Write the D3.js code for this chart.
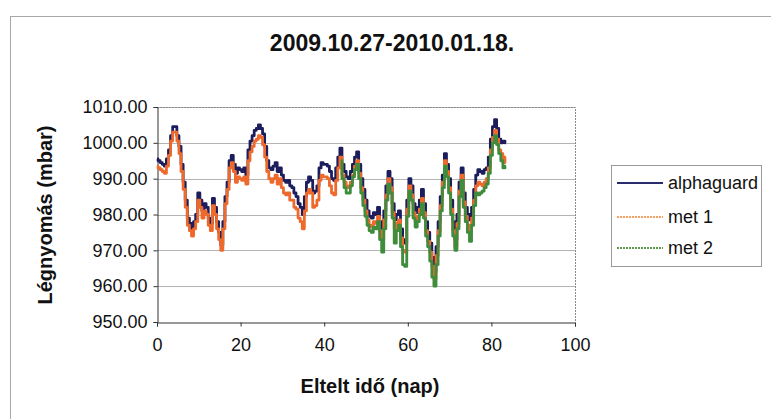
<!DOCTYPE html>
<html>
<head>
<meta charset="utf-8">
<script src="https://cdn.jsdelivr.net/npm/d3@7"></script>
<style>
  body { margin: 0; background: #fff; }
  svg text { font-family: "Liberation Sans", Arial, Helvetica, sans-serif; fill: #111; }
</style>
</head>
<body>
<div id="chart"></div>
<script>
// readings every half day, starting at day 0
var dayStep = 0.5;
var met2StartDay = 44;

var alphaguard = [
	995.5, 995, 994.5, 994, 993.5, 995.5, 998, 1002, 1004.5, 1004.5,
	1002, 999, 994, 989, 984, 979, 977.5, 976, 978, 980,
	986, 984, 981, 983, 982, 979, 977.5, 984.5, 982, 978,
	975, 971.5, 978, 985, 989, 995, 996.5, 994, 991.5, 993,
	992.5, 992, 993, 991, 998, 1000.5, 1002, 1003.5, 1004, 1005,
	1004, 1002.5, 999, 995, 993, 992.5, 993.5, 994.5, 992, 993,
	991, 989.5, 989, 989.5, 988, 987.5, 986, 985, 983, 982,
	980, 985, 989, 990.5, 989.5, 986, 986.5, 988, 993, 994.5,
	994, 994, 993.5, 992, 990, 989.5, 993, 996, 998.5, 994,
	992, 990.5, 990, 992, 994, 996, 997.5, 994, 990, 987,
	984, 981, 979.5, 979, 980.5, 980, 982, 978, 976, 981,
	988, 992, 990, 983, 978.5, 980, 981, 976, 973, 972,
	984, 990, 988, 983, 980.5, 982, 984, 987, 983, 978,
	975, 972, 968, 964, 971, 978, 985, 991, 997, 994,
	990, 984, 978, 973, 980, 989, 993, 986, 982, 980,
	978.5, 982, 987, 991, 992.5, 992, 991.5, 992.5, 993, 996,
	1001, 1004.5, 1006.5, 1004, 1001, 1000, 1000.5, 1000
];

var met1 = [
	993.5, 993, 992.5, 992, 991.5, 993.5, 996.5, 1000.5, 1003, 1003,
	1000.5, 997, 992, 987, 982, 977, 975.5, 974, 976, 978,
	984, 982, 979, 981, 980, 977, 975.5, 982.5, 980, 976,
	973, 970, 976, 983, 987, 993, 994.5, 992, 989, 990.5,
	990, 989.5, 990.5, 988.5, 995, 997.5, 999, 1000.5, 1001, 1002,
	1001.5, 999.5, 996, 992, 990, 989, 990, 991, 988.5, 990,
	987.5, 986, 985.5, 986, 984, 984, 982, 981.5, 979, 978,
	976, 981, 986, 987, 986, 982, 982.5, 984, 989.5, 991,
	990.5, 990.5, 990, 988, 986, 985.5, 989.5, 993, 996, 991,
	989, 988, 987.5, 989, 991, 993.5, 995, 991.5, 987.5, 984,
	981, 978.5, 977, 976.5, 978, 977.5, 979.5, 975.5, 973, 978.5,
	985.5, 990, 987.5, 980.5, 976, 977.5, 978.5, 973.5, 970, 969.5,
	981.5, 988, 985.5, 980.5, 978, 979.5, 981.5, 984.5, 980.5, 975.5,
	972.5, 969.5, 965.5, 962, 968.5, 975.5, 982.5, 989, 995, 992,
	987.5, 981.5, 975.5, 971, 977.5, 986.5, 991, 983.5, 979.5, 977,
	975.5, 979, 984, 988, 989, 988.5, 988, 989, 990, 993,
	998, 1001.5, 1003.5, 1001, 998, 997, 994.5, 996
];

var met2 = [
	995, 990, 987.5, 986, 986, 988, 990.5, 992.5, 994, 990,
	986, 982.5, 979.5, 977, 975.5, 975, 976.5, 976, 978, 973,
	969.5, 976, 984, 988.5, 986, 979, 972, 975.5, 977, 971,
	966, 965.5, 979.5, 986.5, 984, 979, 976.5, 978, 980, 983,
	979, 974, 971, 967, 962.5, 960, 966, 974, 981, 987.5,
	993.5, 990.5, 986, 980, 974, 970, 976, 985, 989.5, 982,
	978, 975, 972.5, 977, 982.5, 986, 985.5, 986, 986.5, 987.5,
	988.5, 991.5, 996.5, 1000, 1002, 999.5, 997, 995, 993, 993.5
];

var yTicks = [950, 960, 970, 980, 990, 1000, 1010];
var xTicks = [0, 20, 40, 60, 80, 100];
var seriesNames = ["alphaguard", "met 1", "met 2"];
var seriesColors = ["#1b1d5c", "#ee6a2c", "#3f8c3c"];
var legendColors = ["#2a2c6e", "#f4a060", "#5a9a4a"];

var width = 771, height = 419;
var plot = { left: 157, top: 107, right: 575, bottom: 322 };

var svg = d3.select("#chart")
	.append("svg")
	.attr("width", width)
	.attr("height", height);

// outer chart frame
svg.append("rect")
	.attr("x", 10.5).attr("y", 16.5)
	.attr("width", 780).attr("height", 430)
	.style("fill", "none").style("stroke", "#a8a8a8");

svg.append("text")
	.attr("x", 392).attr("y", 51)
	.attr("text-anchor", "middle")
	.style("font-size", "23px").style("font-weight", "bold")
	.text("2009.10.27-2010.01.18.");

var x = d3.scaleLinear().domain([0, 100]).range([plot.left, plot.right]);
var y = d3.scaleLinear().domain([950, 1010]).range([plot.bottom, plot.top]);

// gridlines
svg.append("g")
	.selectAll("line")
	.data(yTicks.slice(1))
	.enter().append("line")
	.attr("x1", plot.left).attr("x2", plot.right)
	.attr("y1", function(d) { return Math.round(y(d)) + 0.5; })
	.attr("y2", function(d) { return Math.round(y(d)) + 0.5; })
	.style("stroke", "#b4b4b4");

// plot border (top/right)
svg.append("path")
	.attr("d", "M" + plot.left + "," + (plot.top + 0.5) + "H" + (plot.right + 0.5) + "V" + plot.bottom)
	.style("fill", "none").style("stroke", "#8a8a8a").style("stroke-dasharray", "2,1");

var yAxis = svg.append("g")
	.attr("transform", "translate(" + (plot.left + 0.5) + ",0)")
	.call(d3.axisLeft(y).tickValues(yTicks).tickFormat(d3.format(".2f")).tickSize(4).tickPadding(6));
yAxis.selectAll("text").style("font-size", "18px");

var xAxis = svg.append("g")
	.attr("transform", "translate(0," + (plot.bottom + 0.5) + ")")
	.call(d3.axisBottom(x).tickValues(xTicks).tickSize(4).tickPadding(12));
xAxis.selectAll("text").style("font-size", "18px");

svg.selectAll(".domain").style("stroke", "#333");
svg.selectAll(".tick line").style("stroke", "#333");

svg.append("text")
	.attr("transform", "translate(52,215) rotate(-90)")
	.attr("text-anchor", "middle")
	.style("font-size", "20px").style("font-weight", "bold")
	.text("Légnyomás (mbar)");

svg.append("text")
	.attr("x", 370).attr("y", 393)
	.attr("text-anchor", "middle")
	.style("font-size", "20px").style("font-weight", "bold")
	.text("Eltelt idő (nap)");

var line = d3.line()
	.x(function(d) { return x(d.day); })
	.y(function(d) { return y(d.value); })
	.curve(d3.curveStep);

function toPoints(values, startDay) {
	return values.map(function(v, i) { return { day: startDay + i * dayStep, value: v }; });
}

var series = [toPoints(alphaguard, 0), toPoints(met1, 0), toPoints(met2, met2StartDay)];

svg.append("g")
	.selectAll("path")
	.data(series)
	.enter().append("path")
	.attr("d", line)
	.style("fill", "none")
	.style("stroke", function(d, i) { return seriesColors[i]; })
	.style("stroke-width", 2.8)
	.style("stroke-linejoin", "round");

// legend
var legend = svg.append("g").attr("transform", "translate(611,165)");
legend.append("rect")
	.attr("x", 0.5).attr("y", 0.5)
	.attr("width", 150).attr("height", 101)
	.style("fill", "#fff").style("stroke", "#999");

var items = legend.selectAll(".item")
	.data(seriesNames)
	.enter().append("g")
	.attr("transform", function(d, i) { return "translate(0," + [18, 52, 83][i] + ")"; });

items.append("line")
	.attr("x1", 6).attr("x2", 52)
	.style("stroke", function(d, i) { return legendColors[i]; })
	.style("stroke-width", 2)
	.style("stroke-dasharray", function(d, i) { return i === 0 ? null : "2,1"; });

items.append("text")
	.attr("x", 57).attr("y", 6)
	.style("font-size", "18px")
	.text(function(d) { return d; });
</script>
</body>
</html>
